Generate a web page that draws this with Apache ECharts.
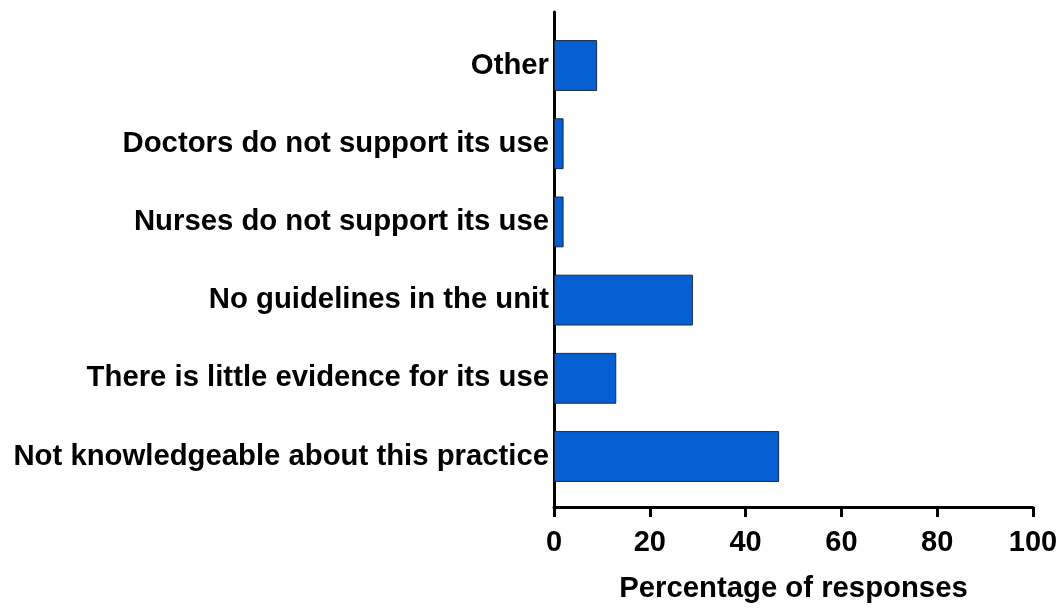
<!DOCTYPE html>
<html>
<head>
<meta charset="utf-8">
<script src="https://cdn.jsdelivr.net/npm/echarts@6/dist/echarts.min.js"></script>
<style>
html,body{margin:0;padding:0;background:#fff;}
#chart{width:1060px;height:608px;}
</style>
</head>
<body>
<div id="chart"></div>
<script>
// Data (top to bottom as shown)
const categories = [
  'Other',
  'Doctors do not support its use',
  'Nurses do not support its use',
  'No guidelines in the unit',
  'There is little evidence for its use',
  'Not knowledgeable about this practice'
];
const values = [9, 2, 2, 29, 13, 47];
const xTicks = [0, 20, 40, 60, 80, 100];
const xTitle = 'Percentage of responses';

const FONT = '"Liberation Sans", Arial, sans-serif';
const chart = echarts.init(document.getElementById('chart'));
chart.setOption({
  backgroundColor: '#ffffff',
  animation: false,
  grid: [
    { left: 554, right: 27, top: 12, bottom: 101, outerBoundsMode: 'none', containLabel: false },
    { left: 554, right: 27, top: 26.4, bottom: 112.4, outerBoundsMode: 'none', containLabel: false }
  ],
  xAxis: [
    {
      gridIndex: 0, type: 'value', min: xTicks[0], max: xTicks[xTicks.length - 1], interval: 20,
      axisLine: { show: true, lineStyle: { color: '#000', width: 3 } },
      axisTick: { show: true, length: 10, lineStyle: { color: '#000', width: 3 } },
      splitLine: { show: false },
      axisLabel: { color: '#000', fontSize: 29, fontWeight: 'bold', fontFamily: FONT, margin: 21 },
      name: xTitle, nameLocation: 'middle', nameGap: 67,
      nameTextStyle: { color: '#000', fontSize: 29.3, fontWeight: 'bold', fontFamily: FONT }
    },
    {
      gridIndex: 1, type: 'value', min: 0, max: 100, show: false
    }
  ],
  yAxis: [
    {
      gridIndex: 0, type: 'value', min: 0, max: 1,
      axisLine: { show: true, lineStyle: { color: '#000', width: 3 } },
      axisTick: { show: false }, axisLabel: { show: false }, splitLine: { show: false }
    },
    {
      gridIndex: 1, type: 'category', data: categories, inverse: true,
      axisLine: { show: false }, axisTick: { show: false }, splitLine: { show: false },
      axisLabel: { color: '#000', fontSize: 29.3, fontWeight: 'bold', fontFamily: FONT, margin: 5, padding: [3, 0, 0, 0] }
    }
  ],
  series: [{
    type: 'bar', xAxisIndex: 1, yAxisIndex: 1,
    data: values, barWidth: '65%',
    itemStyle: { color: '#055fd3', borderColor: '#1b2a45', borderWidth: 1 }
  }]
});
</script>
</body>
</html>
